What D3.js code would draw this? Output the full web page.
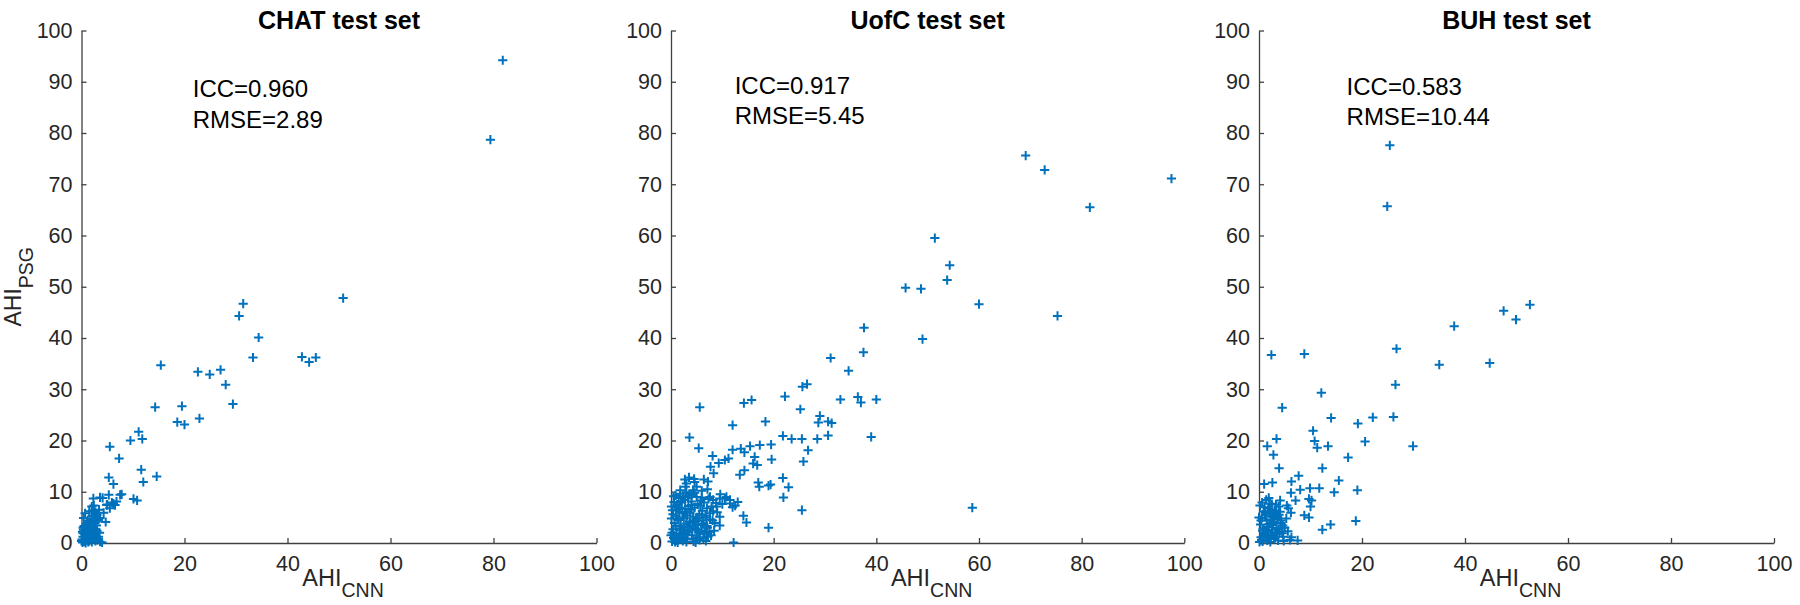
<!DOCTYPE html>
<html><head><meta charset="utf-8">
<script src="https://cdn.jsdelivr.net/npm/d3@7"></script>
<style>
html,body{margin:0;padding:0;background:#fff;}
svg text{font-family:"Liberation Sans",Arial,Helvetica,sans-serif;fill:#262626;}
</style></head><body>
<svg id="c" width="1800" height="605"></svg>
<script>
// ---- data ----
const titles = ["CHAT test set", "UofC test set", "BUH test set"];
const iccLabels = ["ICC=0.960", "ICC=0.917", "ICC=0.583"];
const rmseLabels = ["RMSE=2.89", "RMSE=5.45", "RMSE=10.44"];
const xTicks = [0, 20, 40, 60, 80, 100];
const yTicks = [0, 10, 20, 30, 40, 50, 60, 70, 80, 90, 100];

const chatCNN = [81.8,79.4,50.8,31.4,30.6,34.4,33.3,42.8,44.2,45.5,15.4,22.6,24.9,27.0,28.0,29.4,14.3,19.5,18.6,20.0,22.9,11.1,9.5,11.8,5.5,7.3,11.6,14.6,12.0,5.3,6.2,10.1,10.8,7.8,4.1,5.3,6.8,5.0,5.9,6.5,5.5,3.6,2.3,7.5,4.9,6.2,4.7,3.3,2.3,2.6,2.0,1.1,1.7,3.6,2.0,2.7,3.6,2.6,1.6,0.7,0.7,
  0.2,0.5,0.8,1.0,1.3,1.6,0.3,0.6,1.1,1.4,1.9,2.2,2.5,0.4,0.9,1.2,1.8,2.3,2.8,3.1,0.1,0.6,1.5,2.0,2.7,0.3,1.7,2.1,2.6,3.0,0.5,1.0,1.4,0.8,2.4,3.3,0.2,1.9,2.9,0.0,4.0,1.2,2.2,3.0,1.5,2.4,3.4,4.3,0.3,
  0.9,1.6,2.2,0.4,1.3,2.8,3.5,0.7,1.9,2.5];
const chatPSG = [94.2,78.7,47.8,46.7,44.3,40.1,36.2,36.3,35.3,36.2,34.7,33.4,32.9,33.8,30.9,27.1,26.5,26.7,23.6,23.1,24.3,21.7,20.0,20.3,18.8,16.5,14.3,13.0,11.9,12.8,11.5,8.6,8.3,9.5,8.8,9.4,8.1,7.5,7.9,7.4,6.8,8.9,8.7,9.4,7.4,7.7,4.1,4.5,6.4,5.8,5.1,3.8,2.9,0.25,7.1,6.0,4.9,4.1,3.0,1.5,5.8,
  0.1,0.3,0.0,0.6,0.2,0.9,1.2,1.8,1.4,2.1,1.6,0.8,1.3,2.6,2.3,3.0,2.7,2.2,1.9,0.6,0.7,0.5,0.4,0.2,0.4,1.9,1.1,3.2,2.8,2.4,3.3,2.0,1.6,1.0,1.7,1.2,2.2,3.8,3.4,0.4,0.1,4.4,4.7,5.5,6.2,7.3,6.5,5.9,3.0,
  3.6,4.0,5.3,4.9,1.9,1.3,2.0,0.3,0.8,3.9];

const uofcCNN = [69.1,72.8,97.5,81.6,51.4,54.3,53.8,45.7,48.7,60.0,75.3,37.6,49.0,37.5,31.1,34.6,25.6,26.5,22.2,33.0,36.4,37.0,40.0,14.2,15.7,5.6,25.2,29.0,28.7,30.6,31.3,12.0,18.4,21.8,23.5,25.5,28.5,30.6,39.0,3.6,5.4,26.7,12.0,13.6,14.3,15.4,17.3,19.5,19.6,16.3,16.0,16.8,25.8,8.1,9.3,10.5,11.2,7.7,8.3,14.3,13.4,17.0,17.2,19.0,19.4,21.8,22.9,21.9,25.5,58.7,14.1,14.7,19.0,12.2,9.5,3.5,2.7,6.4,7.1,10.8,11.5,12.5,1.8,2.8,4.3,5.0,7.6,8.2,9.5,10.5,11.5,8.9,7.6,9.5,0.1,4.6,7.2,13.0,12.0,
  0.2,0.5,0.8,1.1,1.4,1.7,2.0,2.3,2.6,2.9,3.2,3.5,3.8,4.1,4.4,4.7,5.0,5.3,5.6,5.9,6.2,6.5,6.8,7.1,0.4,0.7,1.0,1.3,1.6,1.9,2.2,2.5,2.8,3.1,3.4,3.7,4.0,4.3,4.6,4.9,5.2,5.5,5.8,6.1,6.4,6.7,7.0,7.3,7.6,7.9,8.2,8.5,8.8,0.3,0.6,0.9,1.2,1.5,1.8,2.1,2.4,2.7,3.0,3.3,3.6,0.1,0.2,0.9,1.6,2.4,3.3,4.2,5.1,6.0,6.9,7.8,8.4,1.3,3.0,4.8,6.3,0.0,9.0,10.0,9.6,4.0,5.0,4.5,3.0,6.0,
  0.6,1.2,1.8,2.4,3.0,3.6,4.2,4.8,5.4,6.0,6.6,7.2,0.9,1.5,2.1,2.7,3.3,3.9,4.5,5.1,5.7,6.3,6.9,7.5,8.1,1.0,2.0,3.0,4.0,5.0,6.0,7.0,0.4,1.4,2.6,3.6,4.6,5.6,0.5,1.7];
const uofcPSG = [75.6,72.8,71.1,65.5,59.5,54.2,51.3,49.8,49.6,46.6,44.3,42.0,39.8,37.2,36.1,33.6,30.5,31.0,28.6,28.0,28.5,27.4,28.0,27.3,27.9,26.5,26.1,24.8,23.5,23.7,23.4,23.0,23.7,20.9,20.3,20.3,20.3,21.0,20.7,20.6,18.5,18.1,18.2,18.4,17.7,18.9,19.1,19.2,16.3,16.8,15.5,15.2,15.9,17.0,15.6,16.2,16.5,14.9,13.6,14.2,13.3,11.8,11.0,11.2,11.4,12.7,10.9,8.9,6.4,6.9,5.3,4.0,3.0,0.1,3.4,12.8,12.4,12.4,10.5,9.0,8.4,7.3,10.3,11.0,10.3,11.0,9.0,8.4,8.7,8.7,7.7,7.1,5.8,5.1,7.1,11.9,12.0,8.0,7.0,
  0.3,1.0,0.2,1.8,0.6,2.5,1.2,0.4,3.1,1.7,0.8,2.2,4.0,1.5,0.3,2.9,1.1,3.6,0.6,2.4,4.4,1.8,0.4,3.0,2.7,3.9,5.2,4.6,6.1,3.4,5.8,4.9,6.7,5.4,7.2,6.0,8.1,5.1,6.9,4.7,7.6,5.6,8.3,6.3,7.9,5.3,6.8,8.6,4.6,7.1,6.2,3.9,7.8,6.4,8.0,9.3,7.5,8.8,9.6,7.9,9.1,8.4,9.9,8.9,9.5,4.8,2.0,0.5,1.3,2.0,3.1,3.3,5.0,3.5,2.2,1.5,2.4,0.1,0.2,0.1,0.9,1.5,6.0,7.6,9.5,9.3,9.0,12.5,11.6,10.2,
  1.4,0.5,2.9,1.0,3.8,2.6,0.9,4.3,2.0,5.5,3.2,1.2,3.3,4.5,1.6,5.9,2.7,6.5,4.1,0.7,7.3,3.8,5.0,2.1,4.4,7.0,8.2,6.0,7.4,2.6,8.9,3.3,5.6,6.6,0.9,4.2,9.8,1.1,9.1,6.9];

const buhCNN = [25.4,24.9,52.6,47.5,49.9,37.9,26.7,2.4,8.8,35.0,44.8,26.5,12.1,4.5,14.0,22.1,26.1,19.2,10.5,20.6,29.9,3.4,1.6,2.8,10.8,11.3,13.4,17.3,3.9,12.3,15.5,1.0,2.6,7.7,6.3,6.2,8.0,7.1,9.9,11.7,14.6,19.1,9.7,10.2,10.0,8.8,9.7,6.2,5.4,4.1,3.3,13.9,12.3,18.8,5.6,6.3,7.5,4.7,6.0,1.4,2.1,3.8,4.1,5.7,
  0.1,0.4,0.7,1.0,1.3,1.6,1.9,2.2,2.5,2.8,3.1,3.4,3.7,4.0,4.3,4.6,0.3,0.6,0.9,1.2,1.5,1.8,2.1,2.4,2.7,3.0,3.3,3.6,3.9,4.2,0.2,0.8,1.1,1.7,2.3,2.9,3.5,4.5,5.0,5.3,0.5,1.4,2.0,2.6,3.2,0.0,4.8,0.6,1.9,2.5,
  0.9,1.5,2.1,2.7,3.3,0.4,1.2,1.8,2.4,3.0,3.6,0.7,1.6,2.9,3.8];
const buhPSG = [77.6,65.7,46.5,45.3,43.6,42.3,37.9,36.7,36.9,34.8,35.1,30.9,29.3,26.4,24.4,24.5,24.6,23.3,21.9,19.8,18.9,20.3,18.9,17.2,19.9,18.6,18.9,16.7,14.6,14.6,12.2,11.5,11.8,13.1,12.0,9.8,10.4,8.3,10.7,10.7,9.9,10.3,8.6,8.3,7.1,5.4,5.0,5.9,7.3,8.3,7.5,3.6,2.6,4.3,2.3,1.1,0.5,1.2,0.6,8.4,7.7,7.1,6.1,6.8,
  0.2,1.1,0.3,2.0,0.7,3.2,1.4,0.2,2.6,4.1,1.0,3.0,0.5,2.2,4.4,3.4,3.6,4.9,6.2,5.4,4.4,6.8,5.7,6.5,3.5,5.2,6.0,4.7,5.5,3.9,7.3,2.8,7.0,2.3,1.6,0.8,1.8,1.9,3.0,4.8,0.6,1.5,3.7,5.1,2.1,5.0,0.4,7.9,8.8,7.6,
  1.6,2.5,0.9,3.9,2.0,4.4,5.9,3.1,4.6,6.3,5.0,2.4,0.5,1.3,2.7];

const seriesX = [chatCNN, uofcCNN, buhCNN];
const seriesY = [chatPSG, uofcPSG, buhPSG];

// ---- layout (not data) ----
const panelLeft = [81.5, 671, 1259];
const panelWidth = [515, 513.3, 515];
const plotTop = 30.5, plotBottom = 543;
const annotPos = [[21.6, 87], [12.4, 87.7], [17.0, 87.5]]; // data units
const markerColor = "#0072BD";
const axisColor = "#404040";

const svg = d3.select("#c");

titles.forEach((t, i) => {
  const x = d3.scaleLinear().domain([0, 100]).range([panelLeft[i], panelLeft[i] + panelWidth[i]]);
  const y = d3.scaleLinear().domain([0, 100]).range([plotBottom, plotTop]);
  const g = svg.append("g");

  // x axis
  const xa = g.append("g").attr("transform", `translate(0,${plotBottom})`)
    .call(d3.axisBottom(x).tickValues(xTicks).tickSizeInner(-5).tickSizeOuter(0).tickPadding(13).tickFormat(d3.format("d")));
  xa.select(".domain").attr("stroke", axisColor).attr("stroke-width", 1.3);
  xa.selectAll(".tick line").attr("stroke", axisColor).attr("stroke-width", 1.3);
  xa.selectAll(".tick text").attr("font-size", 21.5).attr("fill", "#262626")
    .style("font-family", '"Liberation Sans",Arial,sans-serif');

  // y axis
  const ya = g.append("g").attr("transform", `translate(${panelLeft[i]},0)`)
    .call(d3.axisLeft(y).tickValues(yTicks).tickSizeInner(-5).tickSizeOuter(0).tickPadding(9).tickFormat(d3.format("d")));
  ya.select(".domain").attr("stroke", axisColor).attr("stroke-width", 1.3);
  ya.selectAll(".tick line").attr("stroke", axisColor).attr("stroke-width", 1.3);
  ya.selectAll(".tick text").attr("font-size", 21.5).attr("fill", "#262626")
    .style("font-family", '"Liberation Sans",Arial,sans-serif');

  // markers
  const pts = seriesX[i].map((v, k) => [v, seriesY[i][k]]);
  const s = 4.6;
  g.append("g").selectAll("path").data(pts).join("path")
    .attr("d", d => {
      const px = x(d[0]), py = y(d[1]);
      return `M${px - s},${py}H${px + s}M${px},${py - s}V${py + s}`;
    })
    .attr("stroke", markerColor).attr("stroke-width", 2).attr("fill", "none");

  // title
  g.append("text").attr("x", x(50)).attr("y", 29).attr("text-anchor", "middle")
    .attr("font-size", 25).attr("font-weight", "bold").style("fill", "#000").text(t);

  // annotation
  const ap = annotPos[i];
  g.append("text").attr("x", x(ap[0])).attr("y", y(ap[1])).attr("font-size", 24).style("fill", "#000").text(iccLabels[i]);
  g.append("text").attr("x", x(ap[0])).attr("y", y(ap[1]) + 30.5).attr("font-size", 24).style("fill", "#000").text(rmseLabels[i]);

  // x label
  const xl = g.append("text").attr("x", x(50) + 4).attr("y", 585.5).attr("text-anchor", "middle").attr("font-size", 23.5);
  xl.append("tspan").text("AHI");
  xl.append("tspan").attr("font-size", 19.5).attr("dy", 11.5).text("CNN");

  if (i === 0) {
    const yl = g.append("text").attr("transform", `translate(21,${(plotTop + plotBottom) / 2}) rotate(-90)`)
      .attr("text-anchor", "middle").attr("font-size", 23);
    yl.append("tspan").text("AHI");
    yl.append("tspan").attr("font-size", 19.5).attr("dy", 12).text("PSG");
  }
});
</script>
</body></html>
